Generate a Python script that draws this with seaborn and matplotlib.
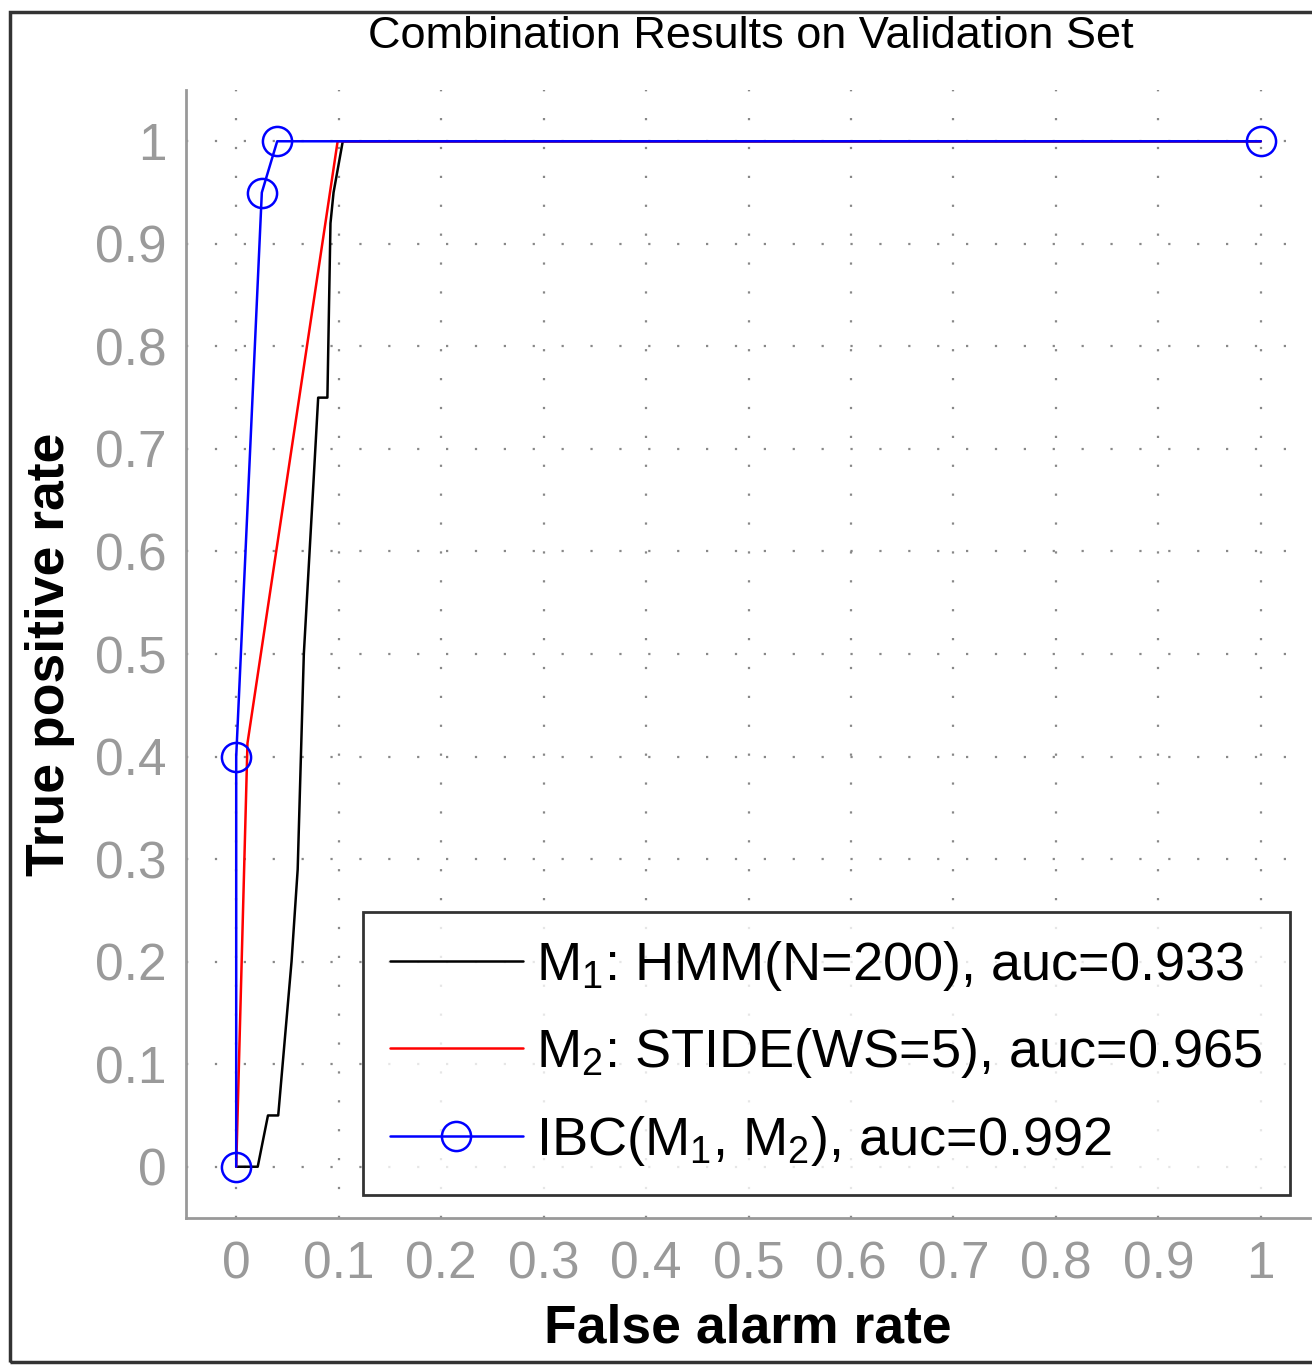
import matplotlib
matplotlib.use("Agg")
import matplotlib.pyplot as plt
import seaborn as sns
import pandas as pd
from matplotlib.patches import Rectangle
from matplotlib.ticker import MultipleLocator

# ---- data ----
m1_fpr = [0.0, 0.021, 0.031, 0.041, 0.054, 0.060, 0.066, 0.075, 0.080, 0.089, 0.092, 0.095, 0.104, 1.0]
m1_tpr = [0.0, 0.0, 0.05, 0.05, 0.20, 0.29, 0.50, 0.66, 0.75, 0.75, 0.92, 0.95, 1.0, 1.0]
m2_fpr = [0.0, 0.011, 0.099, 1.0]
m2_tpr = [0.0, 0.413, 1.0, 1.0]
ibc_fpr = [0.0, 0.0, 0.025, 0.04, 1.0]
ibc_tpr = [0.0, 0.40, 0.95, 1.0, 1.0]
labels = [r"M$_1$: HMM(N=200), auc=0.933",
          r"M$_2$: STIDE(WS=5), auc=0.965",
          r"IBC(M$_1$, M$_2$), auc=0.992"]
xticks = [0, 0.1, 0.2, 0.3, 0.4, 0.5, 0.6, 0.7, 0.8, 0.9, 1]
xtick_labels = ["0", "0.1", "0.2", "0.3", "0.4", "0.5", "0.6", "0.7", "0.8", "0.9", "1"]
yticks = xticks
ytick_labels = xtick_labels
title = "Combination Results on Validation Set"
xlabel = "False alarm rate"
ylabel = "True positive rate"

sns.set_style("white")
plt.rcParams["font.family"] = ["Liberation Sans", "DejaVu Sans"]
plt.rcParams["mathtext.fontset"] = "custom"
plt.rcParams["mathtext.rm"] = "Liberation Sans"
plt.rcParams["mathtext.it"] = "Liberation Sans"
plt.rcParams["text.color"] = "black"
plt.rcParams["axes.labelcolor"] = "black"

fig = plt.figure(figsize=(13.12, 13.66), dpi=100)
ax = fig.add_axes([186/1312, 1-1218/1366, (1310-186)/1312, (1218-90)/1366])

df1 = pd.DataFrame({"fpr": m1_fpr, "tpr": m1_tpr})
df2 = pd.DataFrame({"fpr": m2_fpr, "tpr": m2_tpr})
df3 = pd.DataFrame({"fpr": ibc_fpr, "tpr": ibc_tpr})

sns.lineplot(data=df1, x="fpr", y="tpr", sort=False, estimator=None, ax=ax,
             color="black", lw=1.8, label=labels[0])
sns.lineplot(data=df2, x="fpr", y="tpr", sort=False, estimator=None, ax=ax,
             color="#ff0000", lw=1.8, label=labels[1])
sns.lineplot(data=df3, x="fpr", y="tpr", sort=False, estimator=None, ax=ax,
             color="#0000ff", lw=1.8, marker="o", markersize=21,
             markerfacecolor="none", markeredgecolor="#0000ff", markeredgewidth=1.8,
             label=labels[2])

ax.set_xlim(-0.049, 1.048)
ax.set_ylim(-0.05, 1.05)
ax.set_xticks(xticks)
ax.set_xticklabels(xtick_labels)
ax.set_yticks(yticks)
ax.set_yticklabels(ytick_labels)
ax.xaxis.set_minor_locator(MultipleLocator(0.05))
ax.yaxis.set_minor_locator(MultipleLocator(0.05))
ax.tick_params(which="major", direction="in", length=8, width=1.5, color="#999999",
               labelsize=37, labelcolor="#9a9a9a", pad=14)
ax.tick_params(axis="x", which="major", pad=16)
ax.tick_params(which="minor", direction="in", length=4, width=1.2, color="#999999")
ax.grid(True, which="major", color="#888888", linestyle=(0, (1, 12)), lw=1.6)

for s in ["top", "right"]:
    ax.spines[s].set_visible(False)
for s in ["left", "bottom"]:
    ax.spines[s].set_color("#999999")
    ax.spines[s].set_linewidth(2)

ax.set_xlabel(xlabel, fontsize=38.5, fontweight="bold", labelpad=10)
ax.set_ylabel(ylabel, fontsize=38.5, fontweight="bold", labelpad=14)
fig.text(751/1312, 1-37/1366, title, ha="center", va="center", fontsize=32.5)

leg = ax.legend(loc="lower right", bbox_to_anchor=(0.982, 0.0204), fontsize=39,
                frameon=True, fancybox=False, handlelength=2.45, handletextpad=0.25,
                labelspacing=0.62, borderpad=0.5, borderaxespad=0)
leg.get_frame().set_edgecolor("black")
leg.get_frame().set_linewidth(2)

fig.patches.append(Rectangle((10/1312, 4/1366), 1.1, 1-16/1366, transform=fig.transFigure,
                             fill=False, edgecolor="#333333", lw=2.5))

fig.savefig("out.png", dpi=100)
